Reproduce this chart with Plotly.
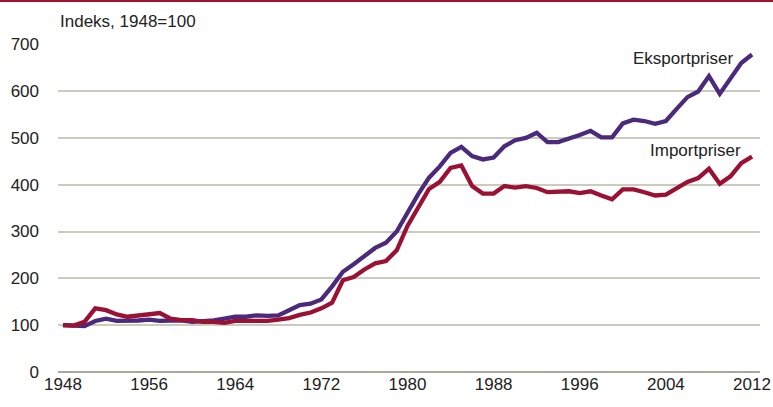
import plotly.graph_objects as go

years = list(range(1948, 2013))

eksport = [100, 100, 98, 109, 114, 109, 109, 110, 112, 109, 110, 110, 107, 108, 110,
           114, 118, 118, 121, 120, 121, 132, 143, 146, 155, 183, 214, 230, 248, 265,
           276, 300, 340, 380, 415, 439, 468, 481, 461, 454, 458, 482, 495, 500, 511,
           491, 491, 498, 506, 515, 501, 501, 531, 539, 536, 530, 536, 562, 587, 599,
           632, 594, 626, 660, 678]

import_ = [100, 99, 107, 136, 132, 123, 118, 121, 124, 126, 114, 111, 111, 107, 107,
           105, 109, 109, 109, 109, 112, 115, 122, 127, 136, 148, 196, 203, 219, 232,
           237, 260, 312, 353, 391, 406, 436, 441, 397, 381, 381, 397, 394, 397, 393,
           384, 384, 386, 382, 386, 377, 369, 390, 390, 384, 377, 379, 392, 406, 414,
           434, 402, 418, 446, 460]

x_ticks = [1948, 1956, 1964, 1972, 1980, 1988, 1996, 2004, 2012]
y_ticks = [0, 100, 200, 300, 400, 500, 600, 700]

FONT = "Liberation Sans, Arial, sans-serif"
FS = 17

fig = go.Figure()
fig.add_trace(go.Scatter(x=years, y=eksport, mode="lines", name="Eksportpriser",
                         line=dict(color="#4b2a7c", width=4.3)))
fig.add_trace(go.Scatter(x=years, y=import_, mode="lines", name="Importpriser",
                         line=dict(color="#9a1133", width=4.3)))

fig.update_layout(
    width=773, height=407,
    margin=dict(l=58, r=13, t=44, b=35, autoexpand=False),
    paper_bgcolor="white", plot_bgcolor="white",
    showlegend=False,
    font=dict(family=FONT, size=FS, color="#222222"),
    xaxis=dict(range=[1947.54, 2012.74], tickmode="array", tickvals=x_ticks,
               showgrid=False, zeroline=False, showline=False, ticks="",
               automargin=False, ticklabeloverflow="allow",
               tickfont=dict(size=FS, color="#222222")),
    yaxis=dict(range=[0, 700.5], tickmode="array", tickvals=y_ticks,
               showgrid=True, gridcolor="#cbcbc0", gridwidth=1.5,
               zeroline=True, zerolinecolor="#a8a898", zerolinewidth=1.5,
               showline=False, ticks="", ticklabelstandoff=18,
               automargin=False,
               tickfont=dict(size=FS, color="#222222")),
    annotations=[
        dict(text="Indeks, 1948=100", xref="paper", yref="paper",
             x=0, y=1 + 22 / 328, xanchor="left", yanchor="middle",
             showarrow=False, font=dict(size=FS, color="#222222")),
        dict(text="Eksportpriser", xref="x", yref="y", x=2010.4, y=670,
             xanchor="right", yanchor="middle", showarrow=False,
             font=dict(size=FS, color="#222222")),
        dict(text="Importpriser", xref="x", yref="y", x=2011.2, y=474,
             xanchor="right", yanchor="middle", showarrow=False,
             font=dict(size=FS, color="#222222")),
    ],
    shapes=[
        dict(type="line", xref="paper", yref="paper",
             x0=-58 / 702, x1=1 + 13 / 702, y0=1 + 43 / 328, y1=1 + 43 / 328,
             line=dict(color="#a0122e", width=2)),
    ],
)

fig.write_html("out.html", config={"displayModeBar": False},
               post_script="document.body.style.margin='0';document.body.style.overflow='hidden';")
